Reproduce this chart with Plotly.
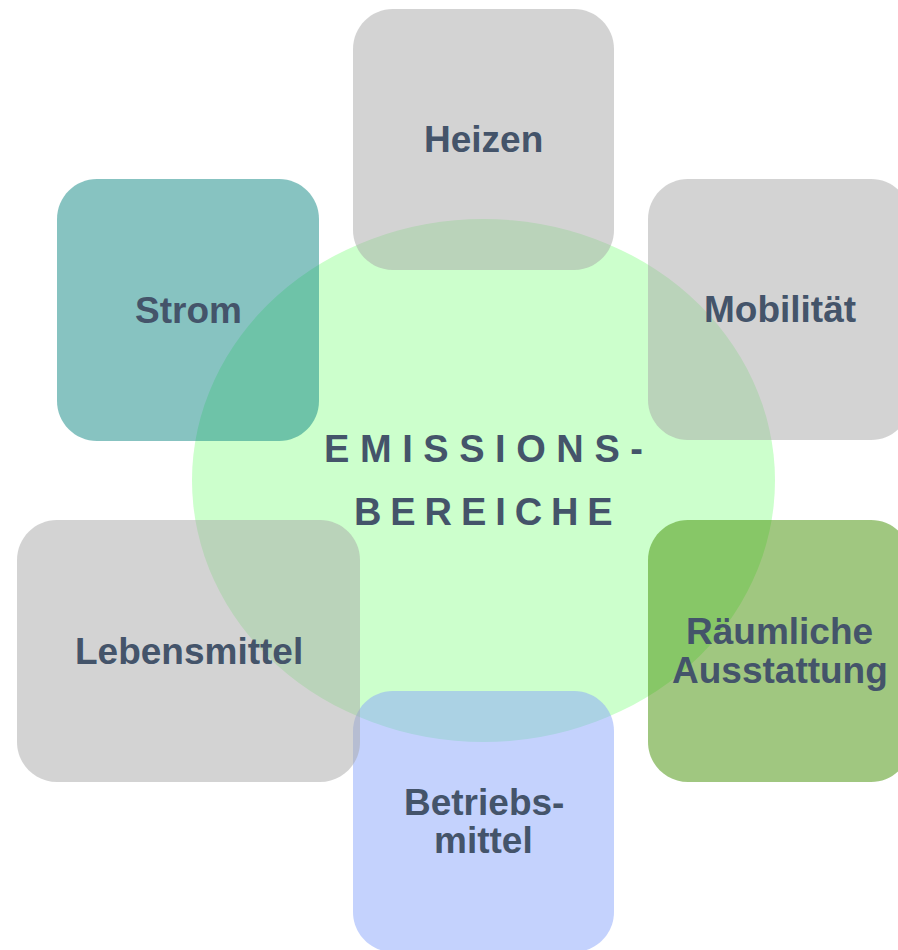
import plotly.graph_objects as go

# ---- data ----
labels = ["Heizen", "Mobilität", "Räumliche\nAusstattung", "Betriebs-\nmittel", "Lebensmittel", "Strom"]
box_left = [353, 648, 648, 353, 17, 57]
box_right = [614, 911, 911, 614, 360, 319]
box_top = [9, 179, 520, 691, 520, 179]
box_bottom = [270, 440, 782, 952, 782, 441]
box_colors = ["rgba(167,167,167,0.5)", "rgba(167,167,167,0.5)", "rgba(65,143,1,0.5)",
              "rgba(137,165,251,0.5)", "rgba(167,167,167,0.5)", "rgba(15,135,131,0.5)"]
center_lines = ["EMISSIONS-", "BEREICHE"]
center_gap_px = [38, 32]
ellipse = dict(x0=192, x1=775, y0=219, y1=742)

TEXT_COLOR = "#44546a"
FONT = "Arial, Liberation Sans, sans-serif"
W, H = 898, 950


def rounded_path(x0, y0, x1, y1, r):
    k = 0.5523 * r
    return (f"M {x0+r},{y0} L {x1-r},{y0} C {x1-r+k},{y0} {x1},{y0+r-k} {x1},{y0+r} "
            f"L {x1},{y1-r} C {x1},{y1-r+k} {x1-r+k},{y1} {x1-r},{y1} "
            f"L {x0+r},{y1} C {x0+r-k},{y1} {x0},{y1-r+k} {x0},{y1-r} "
            f"L {x0},{y0+r} C {x0},{y0+r-k} {x0+r-k},{y0} {x0+r},{y0} Z")


fig = go.Figure()
fig.add_trace(go.Scatter(x=[0, W], y=[0, H], mode="markers",
                         marker=dict(opacity=0), hoverinfo="skip", showlegend=False))

shapes = [dict(type="circle", xref="x", yref="y", layer="below",
               fillcolor="#ccffcc", line=dict(width=0), **ellipse)]
annotations = []
LINE_PITCH = 38.5
for lab, x0, x1, y0, y1, col in zip(labels, box_left, box_right, box_top, box_bottom, box_colors):
    shapes.append(dict(type="path", xref="x", yref="y", layer="below",
                       path=rounded_path(x0, y0, x1, y1, 40),
                       fillcolor=col, line=dict(width=0)))
    lines = lab.split("\n")
    cx, cy = (x0 + x1) / 2, (y0 + y1) / 2
    n = len(lines)
    for i, ln in enumerate(lines):
        off = (i - (n - 1) / 2) * LINE_PITCH
        annotations.append(dict(x=cx, y=cy + off, xref="x", yref="y", text=ln, showarrow=False,
                                xanchor="center", yanchor="middle",
                                font=dict(family=FONT, size=37, color=TEXT_COLOR, weight="bold")))

ecx = (ellipse["x0"] + ellipse["x1"]) / 2
ecy = (ellipse["y0"] + ellipse["y1"]) / 2
for i, (ln, gp) in enumerate(zip(center_lines, center_gap_px)):
    off = (i - 0.5) * 63
    spacer = f'<span style="font-size:{gp}px"> </span>'
    annotations.append(dict(x=ecx, y=ecy + off, xref="x", yref="y", text=spacer.join(ln), showarrow=False,
                            xanchor="center", yanchor="middle",
                            font=dict(family=FONT, size=38, color=TEXT_COLOR, weight="bold")))

fig.update_layout(
    width=W, height=H, margin=dict(l=0, r=0, t=0, b=0),
    paper_bgcolor="white", plot_bgcolor="white",
    xaxis=dict(range=[0, W], visible=False, fixedrange=True),
    yaxis=dict(range=[H, 0], visible=False, fixedrange=True),
    shapes=shapes, annotations=annotations, showlegend=False,
)
fig.write_html("out.html", config={"displayModeBar": False},
               post_script="document.body.style.margin='0';document.body.style.overflow='hidden';")
